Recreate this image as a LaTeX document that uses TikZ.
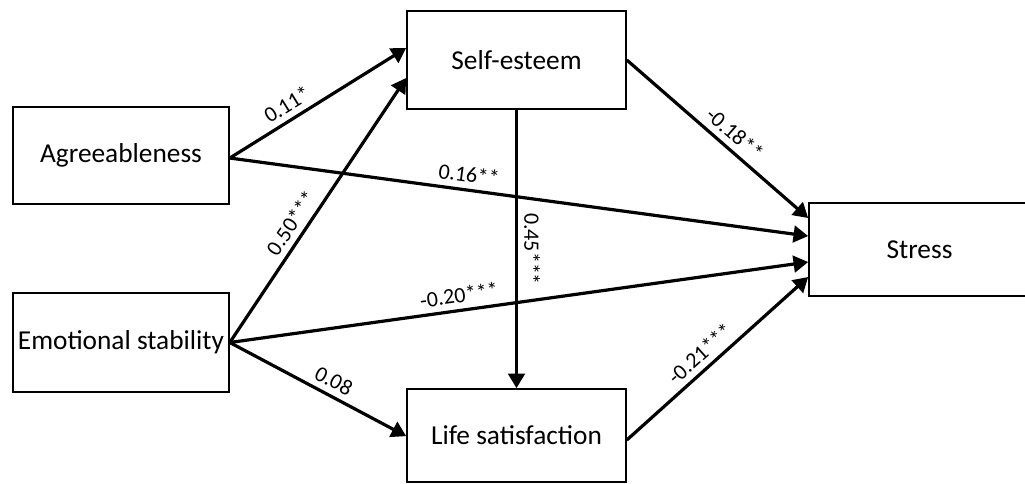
\documentclass[tikz,border=0pt]{standalone}
\usepackage{fontspec}
\setmainfont{Carlito}
\usetikzlibrary{arrows.meta}
\begin{document}
\begin{tikzpicture}[x=0.75pt,y=-0.75pt,
  box/.style={draw=black, line width=1.2pt, fill=white, inner sep=1pt, font=\fontsize{20.5}{24}\selectfont},
  path/.style={line width=2.4pt, -{Triangle[length=11pt,width=12.5pt]}},
  lbl/.style={font=\fontsize{16.5}{19}\selectfont, inner sep=1pt, sloped, above=3.5pt}]
\useasboundingbox (0,0) rectangle (1025,483);
\clip (0,0) rectangle (1025,483);
\node[box, minimum width=219*0.75pt, minimum height=98*0.75pt] (se) at (516.5,60) {Self-esteem};
\node[box, minimum width=216*0.75pt, minimum height=97*0.75pt] (ag) at (121,155.5) {Agreeableness};
\node[box, minimum width=216*0.75pt, minimum height=99*0.75pt] (es) at (121,342.5) {Emotional stability};
\node[box, minimum width=219*0.75pt, minimum height=93*0.75pt] (ls) at (516.5,435.5) {Life satisfaction};
\node[box, minimum width=221*0.75pt, minimum height=93*0.75pt] (st) at (919.5,249.5) {Stress};

\draw[path] ([yshift=-1.9pt]ag.east) -- node[lbl, pos=0.37] {0.11*} ([yshift=9pt]se.west);
\draw[path] ([yshift=-1.9pt]ag.east) -- node[lbl, pos=0.41] {0.16**} ([yshift=10.1pt]st.west);
\draw[path] (es.east) -- node[lbl, pos=0.42] {0.50***} ([yshift=-13.5pt]se.west);
\draw[path] (es.east) -- node[lbl, pos=0.40] {-0.20***} ([yshift=-9.4pt]st.west);
\draw[path] (es.east) -- node[lbl, pos=0.55] {0.08} ([yshift=-0.5pt]ls.west);
\draw[path] (se.east) -- node[lbl, pos=0.54] {-0.18**} ([yshift=23.6pt]st.west);
\draw[path] (se.south) -- node[lbl, pos=0.50] {0.45***} (ls.north);
\draw[path] ([yshift=-3.4pt]ls.east) -- node[lbl, pos=0.46] {-0.21***} ([yshift=-20.6pt]st.west);
\end{tikzpicture}
\end{document}
